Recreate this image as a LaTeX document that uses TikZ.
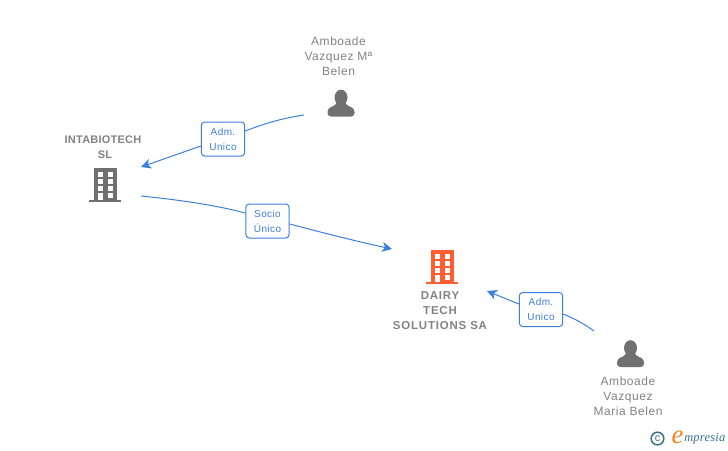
\documentclass[tikz,border=0pt]{standalone}
\usepackage{fontspec}
\setmainfont{Liberation Sans}
\newfontfamily\logofont{Liberation Serif}
\usetikzlibrary{arrows.meta}
\definecolor{linkblue}{RGB}{60,127,221}
\definecolor{icongrey}{RGB}{112,112,112}
\definecolor{textgrey}{RGB}{130,130,130}
\definecolor{iconorange}{RGB}{255,94,50}
\definecolor{logoteal}{RGB}{52,112,140}
\definecolor{logoorange}{RGB}{240,130,30}
\tikzset{
  linkline/.style={draw=linkblue,line width=0.75},
  linkarrow/.style={linkline,-{Stealth[length=7.5pt,width=7.5pt,inset=2.2pt]}},
  rolebox/.style={draw=linkblue,line width=0.75,fill=white,rounded corners=2.5pt,minimum width=32.5pt,minimum height=25.5pt,inner sep=0pt,align=center,text=linkblue,font=\fontsize{7.5}{11.25}\selectfont\addfontfeatures{LetterSpace=4}},
  persontext/.style={inner sep=0pt,align=center,text=textgrey,font=\fontsize{9}{11.25}\selectfont\addfontfeatures{LetterSpace=4.5}},
  firmtext/.style={inner sep=0pt,align=center,text=textgrey,font=\fontsize{8.25}{11.25}\selectfont\bfseries\addfontfeatures{LetterSpace=2}},
  widetext/.style={firmtext,font=\fontsize{8.6}{11.25}\selectfont\bfseries\addfontfeatures{LetterSpace=7}},
  person/.pic={
    \fill[icongrey] (0,-6) ellipse (6.5 and 7.8);
    \fill[icongrey,rounded corners=2.5pt] (-13.5,13) -- (-13.5,5) -- (-5,1.5) -- (-3,-4) -- (3,-4) -- (5,1.5) -- (13.5,5) -- (13.5,13) -- cycle;
  },
  building/.pic={
    \fill[#1] (-11,-17) rectangle (12,15);
    \fill[#1] (-16,15) rectangle (16,17);
    \foreach \wy in {-13,-6,1}{
      \fill[white] (-7,\wy) rectangle (-2,\wy+5);
      \fill[white] (2.5,\wy) rectangle (8,\wy+5);
    }
    \fill[white] (-7,7.5) rectangle (-2.5,15);
    \fill[white] (2.5,7.5) rectangle (8,12.5);
  }
}
\begin{document}
\begin{tikzpicture}[x=0.75pt,y=0.75pt,yscale=-1,xscale=1]
\useasboundingbox (0,0) rectangle (728,450);

% Icons
\path (341,103.5) pic[transform shape] {person};
\path (630.5,354) pic[transform shape] {person};
\path (105,185) pic[transform shape] {building=icongrey};
\path (442,267) pic[transform shape] {building=iconorange};

% Text Node
\node (belen) [persontext] at (338.5,56) {Amboade\\Vazquez Mª\\Belen};
\node (intabiotech) [firmtext] at (103,147) {INTABIOTECH\\\hspace*{3pt}SL};
\node (dairy) [widetext] at (440,310.5) {DAIRY\\TECH\\SOLUTIONS SA};
\node (maria) [persontext] at (628,396) {Amboade\\Vazquez\\Maria Belen};

% Labels
\node (adm1) [rolebox] at (223,139) {Adm.\\Unico};
\node (socio) [rolebox] at (267.5,221) {Socio\\Único};
\node (adm2) [rolebox] at (541,309.5) {Adm.\\Unico};

% Free ends
\coordinate (belenend) at (304,115);
\coordinate (intain) at (141,167);
\coordinate (intaout) at (141,196);
\coordinate (dairyin) at (392,249);
\coordinate (dairyside) at (487,291);
\coordinate (mariaend) at (594,331);

% Connectors
\draw [linkline] (belenend) .. controls (283,118) and (263,124) .. (adm1.east |- 0,131);
\draw [linkarrow] (adm1.west |- 0,146) -- (intain);
\draw [linkline] (intaout) .. controls (180,200) and (215,205) .. (socio.west |- 0,213);
\draw [linkarrow] (socio.east |- 0,224) .. controls (320,232) and (355,241) .. (dairyin);
\draw [linkline] (mariaend) .. controls (583,323) and (573,318) .. (adm2.east |- 0,314);
\draw [linkarrow] (adm2.west |- 0,304) -- (dairyside);

% Logo
\node (copyr) [circle,draw=logoteal,line width=1.1,inner sep=0pt,minimum size=9.5pt,text=logoteal,font=\fontsize{8}{8}\selectfont] at (657.5,438.5) {c};
\node (logoe) [inner sep=0pt,text=logoorange,font=\logofont\fontsize{20}{20}\selectfont\itshape] at (677.5,437) {e};
\node (logotxt) [anchor=west,inner sep=0pt,text=logoteal,font=\logofont\fontsize{9.3}{10}\selectfont\itshape\addfontfeatures{LetterSpace=2}] at (684,439) {mpresia};
\end{tikzpicture}
\end{document}
